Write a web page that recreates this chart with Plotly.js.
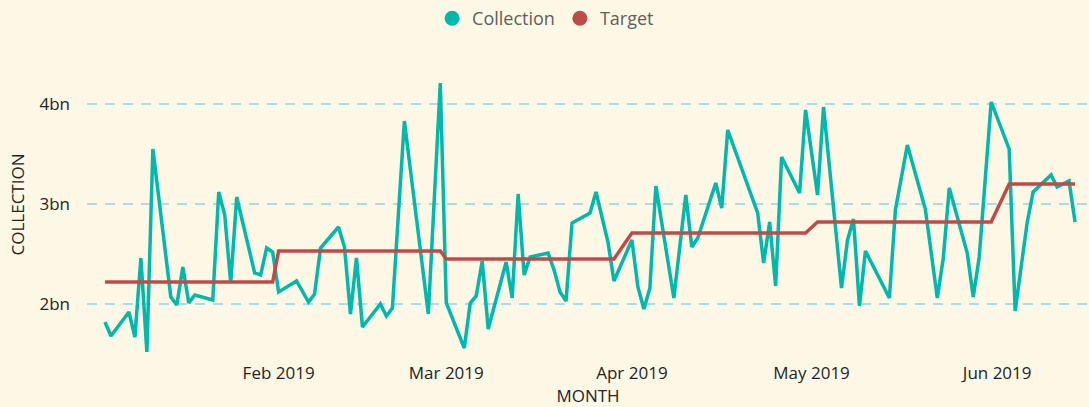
<!DOCTYPE html>
<html>
<head>
<meta charset="utf-8">
<script src="https://cdn.plot.ly/plotly-3.0.1.min.js"></script>
<style>
  html, body { margin: 0; padding: 0; background: #FDF8E6; }
  #chart { width: 1089px; height: 407px; }
</style>
</head>
<body>
<div id="chart"></div>
<script>
// Daily collection (business days), values in billions
const dates = [
  '2019-01-03','2019-01-04','2019-01-07','2019-01-08','2019-01-09','2019-01-10','2019-01-11',
  '2019-01-14','2019-01-15','2019-01-16','2019-01-17','2019-01-18',
  '2019-01-21','2019-01-22','2019-01-23','2019-01-24','2019-01-25',
  '2019-01-28','2019-01-29','2019-01-30','2019-01-31','2019-02-01',
  '2019-02-04','2019-02-06','2019-02-07','2019-02-08',
  '2019-02-11','2019-02-12','2019-02-13','2019-02-14','2019-02-15',
  '2019-02-18','2019-02-19','2019-02-20','2019-02-22',
  '2019-02-26','2019-02-28','2019-03-01',
  '2019-03-04','2019-03-05','2019-03-06','2019-03-07','2019-03-08',
  '2019-03-11','2019-03-12','2019-03-13','2019-03-14','2019-03-15',
  '2019-03-18','2019-03-19','2019-03-20','2019-03-21','2019-03-22',
  '2019-03-25','2019-03-26','2019-03-28','2019-03-29',
  '2019-04-01','2019-04-02','2019-04-03','2019-04-04','2019-04-05',
  '2019-04-08','2019-04-10','2019-04-11','2019-04-12',
  '2019-04-15','2019-04-16','2019-04-17',
  '2019-04-22','2019-04-23','2019-04-24','2019-04-25','2019-04-26',
  '2019-04-29','2019-04-30','2019-05-02','2019-05-03',
  '2019-05-06','2019-05-07','2019-05-08','2019-05-09','2019-05-10',
  '2019-05-14','2019-05-15','2019-05-17',
  '2019-05-20','2019-05-22','2019-05-23','2019-05-24',
  '2019-05-27','2019-05-28','2019-05-29','2019-05-31',
  '2019-06-03','2019-06-04','2019-06-06','2019-06-07',
  '2019-06-10','2019-06-11','2019-06-13','2019-06-14'
];
const collection = [
  1.82,1.68,1.92,1.67,2.46,1.52,3.55,
  2.07,1.99,2.37,2.01,2.09,
  2.04,3.12,2.89,2.21,3.07,
  2.31,2.29,2.56,2.52,2.12,
  2.23,2.02,2.10,2.56,
  2.77,2.57,1.90,2.46,1.77,
  2.00,1.88,1.96,3.83,
  1.90,4.21,2.01,
  1.56,2.01,2.08,2.43,1.75,
  2.42,2.06,3.10,2.29,2.47,
  2.51,2.34,2.12,2.03,2.81,
  2.91,3.12,2.62,2.23,
  2.64,2.17,1.95,2.16,3.18,
  2.06,3.09,2.57,2.66,
  3.21,2.96,3.74,
  2.91,2.41,2.82,2.18,3.47,
  3.11,3.94,3.09,3.97,
  2.16,2.64,2.85,1.98,2.53,
  2.06,2.94,3.59,
  2.95,2.06,2.46,3.16,
  2.51,2.07,2.47,4.02,
  3.55,1.93,2.81,3.12,
  3.29,3.17,3.23,2.82
];
// Monthly target, values in billions
const targetMonths = ['2019-01','2019-02','2019-03','2019-04','2019-05','2019-06'];
const targetValues = [2.22, 2.53, 2.45, 2.71, 2.82, 3.20];
// Axis ticks
const monthTicks = ['2019-02-01','2019-03-01','2019-04-01','2019-05-01','2019-06-01'];
const yTicks = [2, 3, 4];
const yTickText = ['2bn','3bn','4bn'];

const target = dates.map(d => targetValues[targetMonths.indexOf(d.slice(0,7))]);

const TEAL = '#01B8AA', RED = '#BE4B48';
const FONT = 'Open Sans, sans-serif';
const TXT = '#252423';

const traces = [
  { x: dates, y: collection, type: 'scatter', mode: 'lines', name: 'Collection',
    line: { color: TEAL, width: 3.5 }, showlegend: false, hoverinfo: 'skip' },
  { x: dates, y: target, type: 'scatter', mode: 'lines', name: 'Target',
    line: { color: RED, width: 3.5 }, showlegend: false, hoverinfo: 'skip' },
  { x: [null], y: [null], type: 'scatter', mode: 'markers', name: 'Collection',
    marker: { color: TEAL, size: 15, symbol: 'circle' } },
  { x: [null], y: [null], type: 'scatter', mode: 'markers', name: 'Target',
    marker: { color: RED, size: 15, symbol: 'circle' } }
];

const layout = {
  width: 1089, height: 407,
  paper_bgcolor: '#FDF8E6', plot_bgcolor: '#FDF8E6',
  margin: { l: 87, r: 0, t: 54, b: 52 },
  font: { family: FONT, color: TXT, size: 17 },
  showlegend: true,
  legend: {
    orientation: 'h', xref: 'container', yref: 'container',
    x: 0.501, xanchor: 'center', y: 1.0, yanchor: 'top',
    font: { family: FONT, size: 18, color: '#605E5C' },
    itemwidth: 30, tracegroupgap: 0, bgcolor: 'rgba(0,0,0,0)'
  },
  xaxis: {
    type: 'date',
    range: ['2018-12-31 00:00', '2019-06-16 08:00'],
    tickvals: monthTicks, tickformat: '%b %Y',
    showgrid: false, zeroline: false, showline: false, ticks: '',
    ticklabelstandoff: 6,
    tickfont: { family: FONT, size: 17, color: TXT },
    title: { text: 'MONTH', font: { family: FONT, size: 17, color: TXT }, standoff: 4 }
  },
  yaxis: {
    range: [1.49, 4.50],
    tickvals: yTicks, ticktext: yTickText,
    showgrid: true, gridcolor: '#A6DDEF', gridwidth: 2, griddash: '10px,8px',
    zeroline: false, showline: false, ticks: '',
    ticklabelstandoff: 16,
    tickfont: { family: FONT, size: 17, color: TXT },
    title: { text: 'COLLECTION', font: { family: FONT, size: 17, color: TXT }, standoff: 10 }
  }
};

Plotly.newPlot('chart', traces, layout, { displayModeBar: false, staticPlot: true });
</script>
</body>
</html>
